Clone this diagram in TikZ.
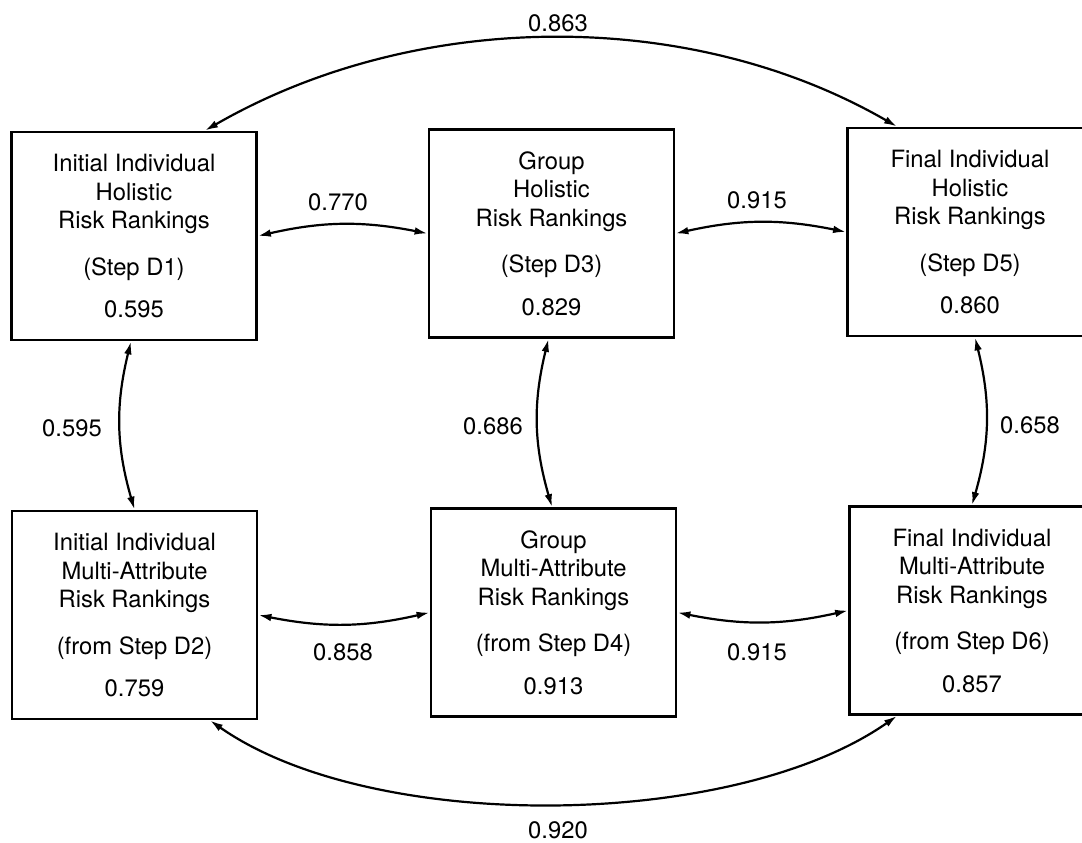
\documentclass[tikz,border=0pt]{standalone}
\usepackage{fontspec}
\setmainfont{TeX Gyre Heros}
\usetikzlibrary{arrows.meta}

\tikzset{
  rankbox/.style={draw, line width=1.4pt, minimum width=122.5pt, minimum height=104pt,
                  align=center, inner sep=0pt},
  corr/.style={{Latex[length=6.5pt,width=3.8pt]}-{Latex[length=6.5pt,width=3.8pt]}, line width=1.1pt},
  coeff/.style={inner sep=1pt}
}

\begin{document}
\begin{tikzpicture}[x=0.5pt,y=-0.5pt,font=\fontsize{11.9}{14.25}\selectfont]
  \useasboundingbox (0,0) rectangle (1082,842);

  % holistic rankings (top row)
  \node[rankbox] (b1) at (134,236) {Initial Individual\\Holistic\\Risk Rankings\\[9pt](Step D1)\\[7pt]0.595};
  \node[rankbox] (b2) at (551.5,233.5) {Group\\Holistic\\Risk Rankings\\[9pt](Step D3)\\[7pt]0.829};
  \node[rankbox] (b3) at (970,232) {Final Individual\\Holistic\\Risk Rankings\\[9pt](Step D5)\\[7pt]0.860};

  % multi-attribute rankings (bottom row)
  \node[rankbox] (b4) at (134.5,615) {Initial Individual\\Multi-Attribute\\Risk Rankings\\[9pt](from Step D2)\\[7pt]0.759};
  \node[rankbox] (b5) at (553.5,612.5) {Group\\Multi-Attribute\\Risk Rankings\\[9pt](from Step D4)\\[7pt]0.913};
  \node[rankbox] (b6) at (972,610.5) {Final Individual\\Multi-Attribute\\Risk Rankings\\[9pt](from Step D6)\\[7pt]0.857};

  % correlations
  \draw[corr] ([xshift=35.5pt]b1.north) to[out=30,in=150,looseness=0.89] ([xshift=-36.5pt]b3.north);
  \draw[corr] (b1.east) to[bend left=12] (b2.west);
  \draw[corr] (b2.east) to[bend left=12] (b3.west);
  \draw[corr] ([xshift=-1.5pt]b1.south) to[bend right=15] (b4.north);
  \draw[corr] ([xshift=-1.5pt]b2.south) to[bend right=15] ([xshift=-0.75pt]b5.north);
  \draw[corr] ([xshift=2.5pt]b3.south) to[bend left=15] (b6.north);
  \draw[corr] (b4.east) to[bend right=12] (b5.west);
  \draw[corr] (b5.east) to[bend right=12] (b6.west);
  \draw[corr] ([xshift=37.75pt]b4.south) to[out=-35,in=-145,looseness=0.74] ([xshift=-37.5pt]b6.south);

  \node[coeff] (c13) at (558,23) {0.863};
  \node[coeff] (c12) at (338,202) {0.770};
  \node[coeff] (c23) at (757,200) {0.915};
  \node[coeff] (c14) at (72,428) {0.595};
  \node[coeff] (c25) at (493,426) {0.686};
  \node[coeff] (c36) at (1030,425) {0.658};
  \node[coeff] (c45) at (343,652) {0.858};
  \node[coeff] (c56) at (757,652) {0.915};
  \node[coeff] (c46) at (558,830) {0.920};
\end{tikzpicture}
\end{document}
